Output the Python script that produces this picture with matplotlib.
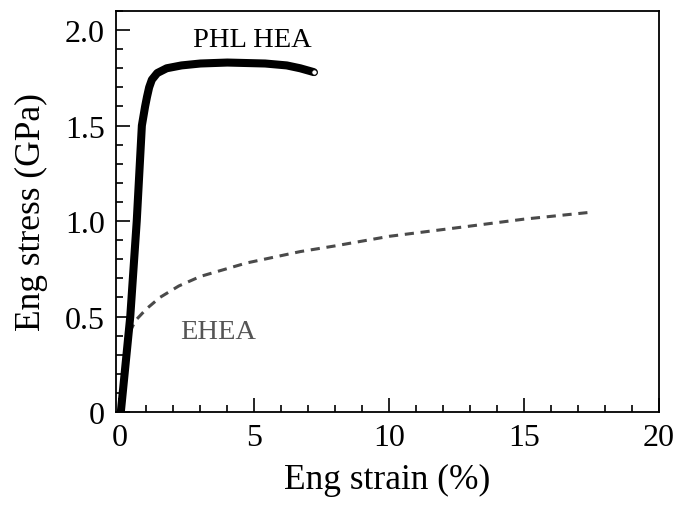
import numpy as np
import matplotlib
matplotlib.use("Agg")
import matplotlib.pyplot as plt
from matplotlib.ticker import MultipleLocator, FixedLocator, FixedFormatter

plt.rcParams['font.family'] = ['Liberation Serif', 'DejaVu Serif']

# PHL HEA engineering curve (strain %, stress GPa)
phl_strain = [0.05, 0.4, 0.64, 0.83, 0.95, 1.02, 1.1, 1.2, 1.4, 1.75, 2.3, 3.0, 4.0, 5.4, 6.2, 6.7, 7.2]
phl_stress = [0.0, 0.5, 1.0, 1.5, 1.6, 1.65, 1.70, 1.74, 1.775, 1.80, 1.815, 1.825, 1.83, 1.825, 1.815, 1.80, 1.78]

# EHEA engineering curve
ehea_strain = [0.1, 0.3, 0.42, 0.6, 1.0, 1.5, 2.2, 3.0, 4.7, 6.7, 8.0, 10.0, 12.8, 15.0, 17.4]
ehea_stress = [0.0, 0.3, 0.43, 0.48, 0.54, 0.6, 0.66, 0.71, 0.78, 0.84, 0.87, 0.92, 0.97, 1.01, 1.045]

x_ticks = [0, 5, 10, 15, 20]
y_ticks = [0, 0.5, 1.0, 1.5, 2.0]
y_tick_labels = ["0", "0.5", "1.0", "1.5", "2.0"]

fig = plt.figure(figsize=(6.77, 5.06), dpi=100)
ax = fig.add_axes([0.1713, 0.1838, 0.8021, 0.7925])

ax.plot(ehea_strain, ehea_stress, color='#4a4a4a', lw=2.2, ls=(0, (3, 2.2)))
ax.plot(phl_strain, phl_stress, color='black', lw=5.8, solid_capstyle='round',
        solid_joinstyle='round')
ax.plot(phl_strain[-1], phl_stress[-1], 'o', ms=4, mfc='white', mec='black', mew=0.8)

ax.text(4.93, 1.95, "PHL HEA", fontsize=20.5, ha='center', va='center')
ax.text(3.65, 0.42, "EHEA", fontsize=20.5, ha='center', va='center', color='#555555')

ax.set_xlim(-0.13, 20)
ax.set_ylim(0, 2.1)
ax.xaxis.set_major_locator(FixedLocator(x_ticks))
ax.xaxis.set_minor_locator(MultipleLocator(1))
ax.yaxis.set_major_locator(FixedLocator(y_ticks))
ax.yaxis.set_major_formatter(FixedFormatter(y_tick_labels))
ax.yaxis.set_minor_locator(MultipleLocator(0.1))
ax.tick_params(which='both', direction='in', top=False, right=False, width=1.2, labelsize=23)
ax.tick_params(which='major', length=10, pad=8)
ax.tick_params(which='minor', length=5)
for s in ax.spines.values():
    s.set_linewidth(1.3)

ax.set_xlabel("Eng strain (%)", fontsize=25.5, labelpad=8)
ax.set_ylabel("Eng stress (GPa)", fontsize=25.5, labelpad=12)

fig.savefig("out.png", dpi=100)
